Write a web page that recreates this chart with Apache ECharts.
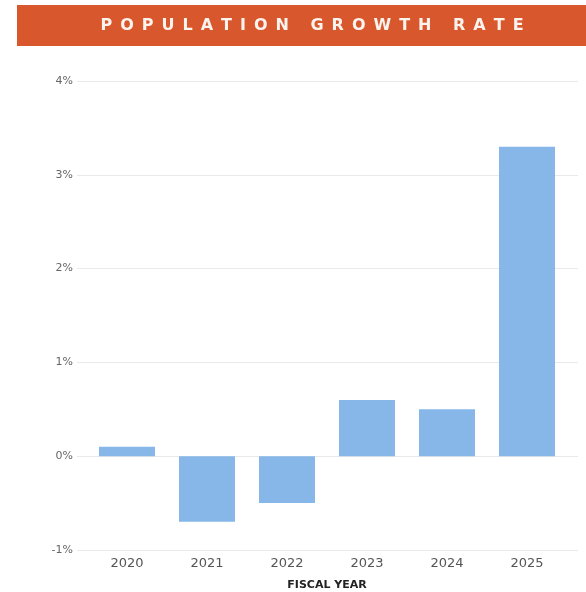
<!DOCTYPE html>
<html>
<head>
<meta charset="utf-8">
<script src="https://cdn.jsdelivr.net/npm/echarts@6/dist/echarts.min.js"></script>
<style>
  html, body { margin: 0; padding: 0; background: #fff; }
  #chart { width: 586px; height: 592px; }
</style>
</head>
<body>
<div id="chart"></div>
<script>
// data
const years = ['2020', '2021', '2022', '2023', '2024', '2025'];
const growthRate = [0.1, -0.7, -0.5, 0.6, 0.5, 3.3];
const yMin = -1;
const yMax = 4;
const yStep = 1;

const titleText = 'POPULATION GROWTH RATE';

const chart = echarts.init(document.getElementById('chart'));

// spread the title letters out like the banner in the reference
const spaced = titleText.split(' ').map(w => w.split('').join('\u2002')).join('\u2002 \u2002');

const option = {
  backgroundColor: '#ffffff',
  textStyle: { fontFamily: 'DejaVu Sans' },
  graphic: [
    {
      type: 'rect',
      left: 17, top: 5,
      shape: { width: 569, height: 41 },
      style: { fill: '#d9572d' },
      z: 0
    },
    {
      type: 'text',
      x: 312, y: 26,
      style: {
        text: spaced,
        fill: '#fbf3ee',
        font: 'bold 16px "DejaVu Sans"',
        align: 'center',
        verticalAlign: 'middle'
      },
      z: 1
    }
  ],
  grid: [
    // grid 0: gridlines + y labels
    { left: 77, right: 8, top: 81, bottom: 42, outerBoundsMode: 'none' },
    // grid 1: bars
    { left: 87, right: 19, top: 81, bottom: 42, outerBoundsMode: 'none' }
  ],
  xAxis: [
    { gridIndex: 0, type: 'value', show: false, min: 0, max: 1 },
    {
      gridIndex: 1,
      type: 'category',
      data: years,
      axisLine: { show: false },
      axisTick: { show: false },
      axisLabel: { color: '#555', fontSize: 13, margin: 7 },
      name: 'FISCAL YEAR',
      nameLocation: 'middle',
      nameGap: 30,
      nameTextStyle: { color: '#222', fontSize: 11, fontWeight: 'bold' }
    }
  ],
  yAxis: [
    {
      gridIndex: 0,
      type: 'value',
      min: yMin, max: yMax, interval: yStep,
      axisLine: { show: false },
      axisTick: { show: false },
      axisLabel: { color: '#666', fontSize: 11, margin: 4, formatter: '{value}%' },
      splitLine: { lineStyle: { color: '#e9e9e9', width: 1 } }
    },
    {
      gridIndex: 1,
      type: 'value',
      min: yMin, max: yMax, interval: yStep,
      show: false
    }
  ],
  series: [
    {
      type: 'bar',
      xAxisIndex: 1,
      yAxisIndex: 1,
      data: growthRate,
      barWidth: '70%',
      itemStyle: { color: '#86b7e8' }
    }
  ]
};

chart.setOption(option);
</script>
</body>
</html>
